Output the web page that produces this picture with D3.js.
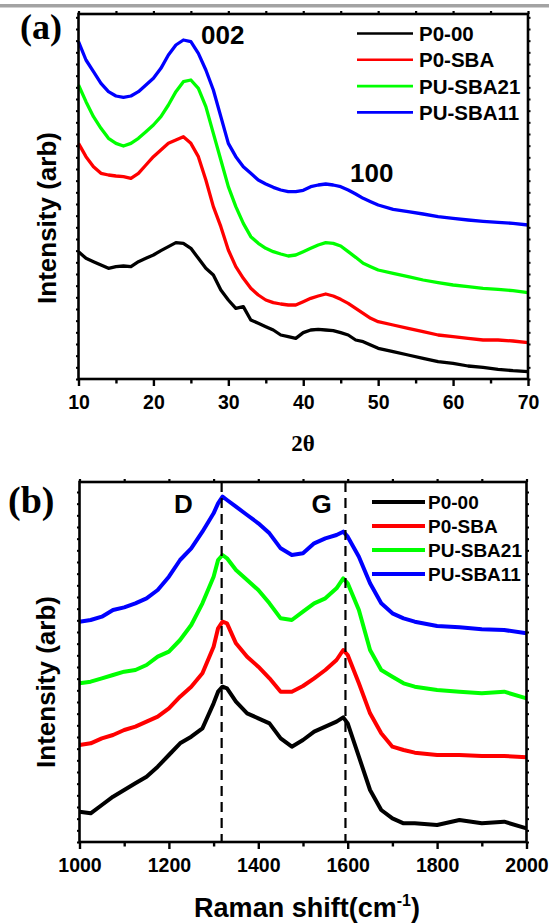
<!DOCTYPE html>
<html>
<head>
<meta charset="utf-8">
<script src="https://cdn.jsdelivr.net/npm/d3@7"></script>
<style>
  html, body { margin: 0; padding: 0; background: #fff; }
  svg { display: block; }
  .sans { font-family: "Liberation Sans", Arial, sans-serif; font-weight: bold; }
  .serif { font-family: "Liberation Serif", "Times New Roman", serif; font-weight: bold; }
</style>
</head>
<body>
<svg id="fig" width="549" height="923"></svg>
<script>
// ---- series names and colours ----
const sampleNames = ["P0-00", "P0-SBA", "PU-SBA21", "PU-SBA11"];
const sampleColors = ["#000000", "#ff0000", "#00ff00", "#0000ff"];

// ---- (a) XRD patterns, intensity in arbitrary offset units ----
const twoTheta = [10, 11, 12, 13, 14, 15, 16, 17, 18, 19,
                  20, 21, 22, 23, 24, 25, 26, 27, 28, 29,
                  30, 31, 32, 33, 34, 35, 36, 37, 38, 39,
                  40, 41, 42, 43, 44, 45, 46, 47, 48, 49, 50,
                  52, 54, 56, 58, 60, 62, 64, 66, 68, 70];
const xrdP0_00 = [38.2, 36.2, 35.2, 34.2, 33.2, 33.7, 33.9, 33.7, 35.2, 36.2,
                  37.2, 38.5, 39.7, 40.9, 40.7, 39.2, 36.2, 33.2, 31.2, 26.7,
                  23.7, 21.2, 21.7, 17.7, 16.7, 15.7, 14.7, 13.2, 12.7, 12.2,
                  13.9, 14.7, 14.9, 14.7, 14.5, 13.9, 13.2, 11.7, 11.2, 10.2, 9.2,
                  8.2, 7.2, 6.2, 5.2, 4.7, 3.9, 3.5, 2.9, 2.5, 2.2];
const xrdP0_SBA = [70.7, 66.7, 63.7, 61.7, 61.2, 60.9, 60.7, 60.2, 61.7, 64.2,
                   66.7, 68.7, 70.7, 71.7, 72.7, 70.7, 66.7, 59.7, 51.7, 45.7,
                   38.7, 33.7, 30.2, 27.2, 25.2, 23.7, 22.9, 22.5, 22.2, 22.2,
                   23.2, 24.2, 24.9, 25.5, 24.9, 23.9, 22.7, 21.2, 19.7, 18.2, 17.2,
                   16.2, 15.2, 14.2, 13.2, 12.7, 12.2, 11.7, 11.7, 11.4, 10.9];
const xrdPU_SBA21 = [88.2, 83.2, 78.7, 75.2, 72.2, 70.7, 69.9, 70.7, 72.2, 74.2,
                     76.2, 78.7, 82.2, 86.2, 89.2, 89.7, 87.2, 81.7, 73.7, 65.7,
                     57.7, 51.7, 46.7, 42.7, 40.7, 39.2, 38.2, 37.5, 36.9, 37.2,
                     38.2, 39.2, 40.2, 40.9, 40.7, 39.9, 38.2, 36.5, 34.7, 33.7, 32.7,
                     31.7, 30.7, 29.7, 28.9, 28.2, 27.7, 27.2, 26.9, 26.5, 25.9];
const xrdPU_SBA11 = [101.2, 95.7, 92.2, 88.7, 86.2, 84.9, 84.5, 84.9, 86.2, 88.2,
                     90.2, 93.2, 97.2, 100.2, 101.7, 101.2, 97.7, 92.7, 86.7, 78.7,
                     70.7, 66.7, 63.7, 61.7, 59.7, 58.5, 57.5, 56.7, 56.2, 56.2,
                     56.6, 57.7, 58.2, 58.5, 58.2, 57.7, 56.7, 55.5, 54.2, 53.2, 52.2,
                     50.9, 50.2, 49.5, 48.7, 48.2, 47.7, 47.3, 47.0, 46.7, 46.2];
const xrdTicks = [10, 20, 30, 40, 50, 60, 70];

// ---- (b) Raman spectra, intensity in arbitrary offset units ----
const ramanShift = [1000, 1025, 1050, 1075, 1100, 1125, 1150, 1175, 1200, 1225, 1250, 1275, 1300,
                    1310, 1320, 1330,
                    1350, 1375, 1400, 1425, 1450, 1475, 1500, 1525, 1550, 1575,
                    1590, 1600,
                    1625, 1650, 1675, 1700, 1725, 1750,
                    1800, 1850, 1900, 1950, 2000];
const ramanP0_00 = [9.1, 8.6, 11.1, 13.6, 15.6, 17.6, 19.6, 22.6, 26.1, 29.6, 31.6, 34.1, 41.6,
                    45.1, 46.6, 46.1,
                    42.1, 38.6, 37.1, 35.6, 31.1, 28.6, 30.6, 33.1, 34.6, 36.1,
                    37.4, 35.6,
                    25.6, 15.6, 9.6, 7.1, 5.6, 5.6,
                    5.1, 6.6, 5.6, 6.1, 4.1];
const ramanP0_SBA = [29.1, 29.6, 31.1, 32.1, 33.6, 34.6, 36.1, 37.6, 40.1, 43.6, 46.6, 50.6, 58.6,
                     64.1, 66.1, 65.6,
                     59.6, 55.6, 52.6, 49.1, 45.1, 45.1, 46.8, 49.1, 51.6, 54.6,
                     57.6, 56.1,
                     47.6, 38.6, 32.6, 28.6, 27.6, 26.8,
                     26.1, 26.1, 25.8, 25.8, 25.4];
const ramanPU_SBA21 = [47.6, 48.1, 49.1, 50.1, 51.1, 51.6, 53.1, 55.6, 57.1, 60.6, 65.1, 71.6, 79.6,
                       84.6, 86.1, 85.1,
                       81.6, 78.6, 75.6, 71.6, 67.1, 66.6, 69.1, 71.6, 73.1, 76.1,
                       79.1, 77.6,
                       69.6, 57.6, 51.6, 49.6, 47.6, 46.6,
                       45.6, 45.1, 44.6, 45.1, 43.1];
const ramanPU_SBA11 = [66.1, 66.6, 67.6, 69.6, 70.4, 71.6, 73.1, 75.6, 79.6, 84.6, 88.1, 93.1, 98.6,
                       101.6, 103.6, 102.6,
                       100.6, 98.1, 95.6, 92.6, 88.1, 86.1, 86.6, 89.6, 91.1, 92.1,
                       93.1, 91.6,
                       85.6, 77.6, 71.6, 68.6, 67.1, 66.1,
                       64.8, 64.4, 63.8, 63.6, 62.6];
const ramanTicks = [1000, 1200, 1400, 1600, 1800, 2000];
const bandNames = ["D", "G"];
const bandPositions = [1318, 1595];

const svg = d3.select("#fig");

// thin grey rule across the head of the figure
svg.append("rect").attr("x", 0).attr("y", 4).attr("width", 549).attr("height", 3.5)
  .attr("fill", "#a3a3a3");

function drawPanel(p) {
  const x = d3.scaleLinear().domain(p.xDomain).range([p.left, p.right]);
  const y = d3.scaleLinear().domain(p.yDomain).range([p.bottom, p.top]);
  const g = svg.append("g");

  // spectra
  const line = d3.line().x(d => x(d[0])).y(d => y(d[1])).curve(d3.curveLinear);
  p.series.forEach((vals, i) => {
    g.append("path")
      .datum(p.xs.map((v, j) => [v, vals[j]]))
      .attr("fill", "none")
      .attr("stroke", sampleColors[i])
      .attr("stroke-width", p.lineWidth)
      .attr("stroke-linejoin", "round")
      .attr("d", line);
  });

  // band markers
  if (p.bands) {
    p.bands.forEach(b => {
      g.append("line")
        .attr("x1", x(b)).attr("x2", x(b))
        .attr("y1", p.top).attr("y2", p.bottom)
        .attr("stroke", "#000").attr("stroke-width", 2.2)
        .attr("stroke-dasharray", "10,6");
    });
  }

  // bottom axis with labels
  const bottomAxis = d3.axisBottom(x).tickValues(p.majorTicks).tickSize(7).tickPadding(10)
    .tickFormat(d3.format("d"));
  const ax = g.append("g").attr("transform", `translate(0,${p.bottom})`).call(bottomAxis);
  ax.select(".domain").remove();
  ax.selectAll(".tick line").attr("stroke-width", 2.4);
  ax.selectAll(".tick text").attr("class", "sans").attr("font-size", 19.5)
    .attr("fill", "#000").attr("dy", null).attr("y", 30);

  const minorBottom = d3.axisBottom(x).tickValues(p.minorTicks).tickSize(4.5).tickFormat("");
  const mb = g.append("g").attr("transform", `translate(0,${p.bottom})`).call(minorBottom);
  mb.select(".domain").remove();
  mb.selectAll(".tick line").attr("stroke-width", 2.4);

  // mirrored top axis
  const topAxis = d3.axisTop(x).tickValues(p.majorTicks.concat(p.minorTicks)).tickSize(3).tickFormat("");
  const at = g.append("g").attr("transform", `translate(0,${p.top})`).call(topAxis);
  at.select(".domain").remove();
  at.selectAll(".tick line").attr("stroke-width", 2.2);

  // unlabeled intensity ticks on both sides
  const yTicks = d3.range(0, p.yDomain[1], 3.5);
  const al = g.append("g").attr("transform", `translate(${p.left},0)`)
    .call(d3.axisLeft(y).tickValues(yTicks).tickSize(2.5).tickFormat(""));
  al.select(".domain").remove();
  al.selectAll(".tick line").attr("stroke-width", 2);
  const ar = g.append("g").attr("transform", `translate(${p.right},0)`)
    .call(d3.axisRight(y).tickValues(yTicks).tickSize(2.5).tickFormat(""));
  ar.select(".domain").remove();
  ar.selectAll(".tick line").attr("stroke-width", 2);

  // frame
  g.append("rect")
    .attr("x", p.left).attr("y", p.top)
    .attr("width", p.right - p.left).attr("height", p.bottom - p.top)
    .attr("fill", "none").attr("stroke", "#000").attr("stroke-width", 2.6);

  // legend
  sampleNames.forEach((name, i) => {
    const by = p.legend.y0 + i * p.legend.dy;
    g.append("line")
      .attr("x1", p.legend.x1).attr("x2", p.legend.x2)
      .attr("y1", by - p.legend.lineLift).attr("y2", by - p.legend.lineLift)
      .attr("stroke", sampleColors[i]).attr("stroke-width", p.legend.width);
    g.append("text").attr("class", "sans")
      .attr("x", p.legend.tx).attr("y", by)
      .attr("font-size", p.legend.fontSize).attr("fill", "#000")
      .text(name);
  });

  // y title
  g.append("text").attr("class", "sans")
    .attr("transform", `translate(${p.yTitleX},${p.yTitleY}) rotate(-90)`)
    .attr("text-anchor", "middle").attr("font-size", 26).attr("fill", "#000")
    .text("Intensity (arb)");

  return { g, x, y };
}

// ---- panel (a) ----
const a = drawPanel({
  left: 78.5, right: 528, top: 14, bottom: 379,
  xDomain: [10, 70], yDomain: [0, 109.5],
  xs: twoTheta,
  series: [xrdP0_00, xrdP0_SBA, xrdPU_SBA21, xrdPU_SBA11],
  lineWidth: 3.3,
  majorTicks: xrdTicks, minorTicks: [15, 25, 35, 45, 55, 65],
  legend: { x1: 357, x2: 413, tx: 419, y0: 41, dy: 26.3, lineLift: 7.5, width: 2.6, fontSize: 20.5 },
  yTitleX: 56, yTitleY: 218
});
a.g.append("text").attr("class", "serif").attr("x", 20).attr("y", 39)
  .attr("font-size", 36).text("(a)");
a.g.append("text").attr("class", "sans").attr("x", 201).attr("y", 44)
  .attr("font-size", 26).text("002");
a.g.append("text").attr("class", "sans").attr("x", 350).attr("y", 181.5)
  .attr("font-size", 26).text("100");
a.g.append("text").attr("class", "serif").attr("x", 303).attr("y", 451)
  .attr("text-anchor", "middle").attr("font-size", 23).text("2θ");

// ---- panel (b) ----
const b = drawPanel({
  left: 79.5, right: 526.5, top: 482, bottom: 842,
  xDomain: [1000, 2000], yDomain: [0, 108],
  xs: ramanShift,
  series: [ramanP0_00, ramanP0_SBA, ramanPU_SBA21, ramanPU_SBA11],
  lineWidth: 4,
  bands: bandPositions,
  majorTicks: ramanTicks, minorTicks: [1100, 1300, 1500, 1700, 1900],
  legend: { x1: 372, x2: 425, tx: 428, y0: 508.5, dy: 24, lineLift: 6.5, width: 4, fontSize: 19 },
  yTitleX: 55, yTitleY: 682
});
b.g.append("text").attr("class", "serif").attr("x", 8).attr("y", 513)
  .attr("font-size", 38).text("(b)");
b.g.append("text").attr("class", "sans").attr("x", 174).attr("y", 513)
  .attr("font-size", 26).text(bandNames[0]);
b.g.append("text").attr("class", "sans").attr("x", 311.5).attr("y", 513)
  .attr("font-size", 26).text(bandNames[1]);
const xt = b.g.append("text").attr("class", "sans").attr("x", 307).attr("y", 917)
  .attr("text-anchor", "middle").attr("font-size", 27);
xt.append("tspan").text("Raman shift(cm");
xt.append("tspan").attr("font-size", 16).attr("dy", -11).text("-1");
xt.append("tspan").attr("dy", 11).text(")");
</script>
</body>
</html>
